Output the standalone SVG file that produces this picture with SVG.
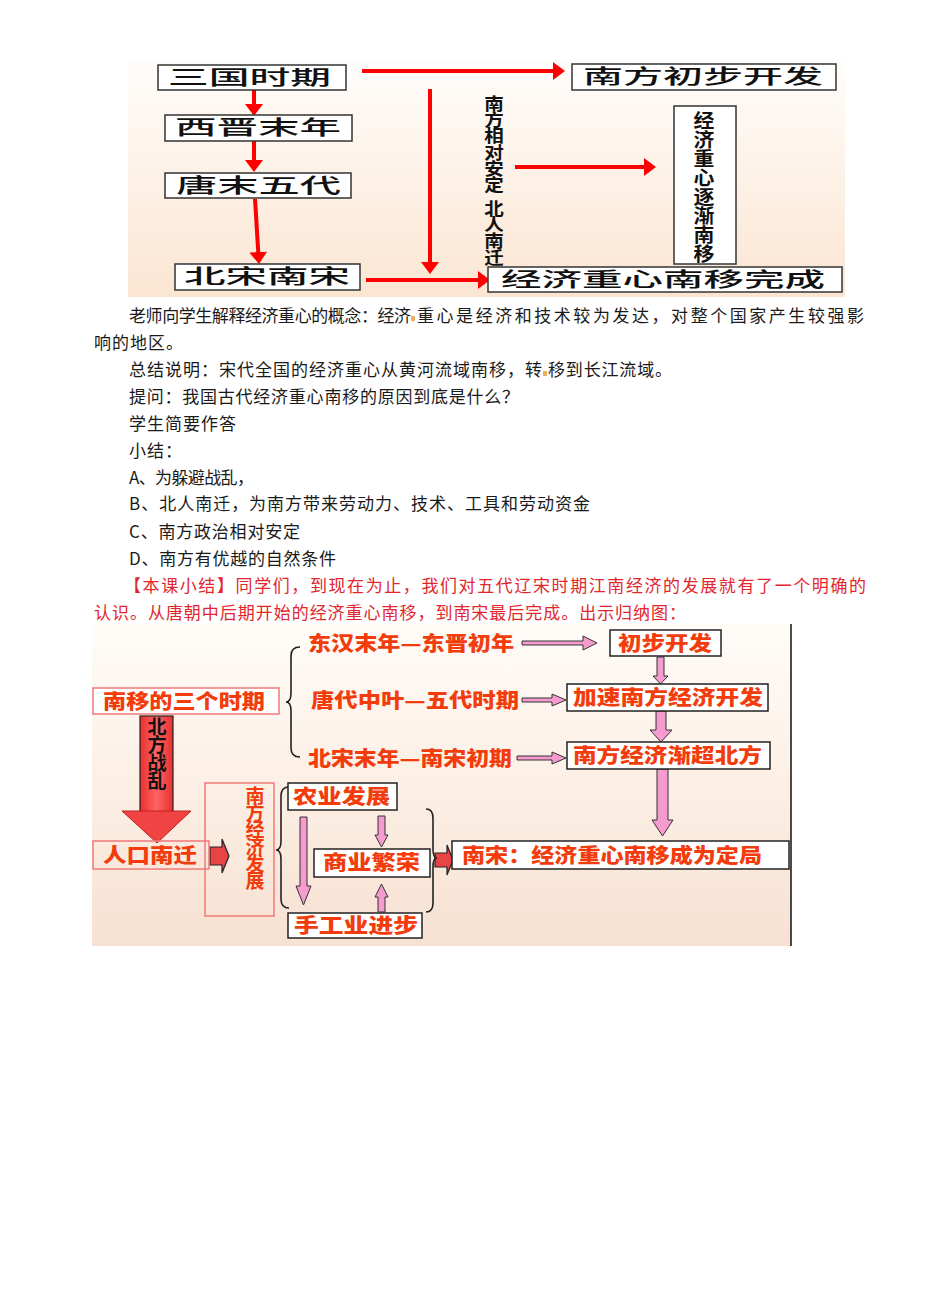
<svg xmlns="http://www.w3.org/2000/svg" width="950" height="1316" viewBox="0 0 950 1316">
<defs>
<linearGradient id="bgTop" x1="0" y1="0" x2="0" y2="1">
<stop offset="0" stop-color="#fffdfb"/><stop offset="1" stop-color="#fbe5d2"/>
</linearGradient>
<linearGradient id="bgBot" x1="0" y1="0" x2="0" y2="1">
<stop offset="0" stop-color="#fffcf8"/><stop offset="0.5" stop-color="#fcefe5"/><stop offset="1" stop-color="#f7e1d2"/>
</linearGradient>
<linearGradient id="redShaft" x1="0" y1="0" x2="1" y2="0">
<stop offset="0" stop-color="#e83030"/><stop offset="0.5" stop-color="#ff6464"/><stop offset="1" stop-color="#e83030"/>
</linearGradient>
<marker id="rh" viewBox="0 0 12 18" refX="4" refY="9" markerWidth="12" markerHeight="18" markerUnits="userSpaceOnUse" orient="auto">
<path d="M0,0 L12,9 L0,18 Z" fill="#ff0000"/>
</marker>
<style>
.para{font-family:"Noto Sans CJK SC","Liberation Serif",serif;font-size:17px;fill:#1a1a1a}
.red{fill:#e3262e}
.tb{fill:#fff;stroke:#333;stroke-width:1.5}
.tt{font-family:"Noto Sans CJK SC",sans-serif;font-size:20px;font-weight:500;fill:#111}
.vt{writing-mode:vertical-rl;font-family:"Noto Sans CJK SC",sans-serif;font-weight:bold}
.rl{stroke:#ff0000;stroke-width:4;fill:none}
.bb{fill:#fff;stroke:#222;stroke-width:1.5}
.pb{fill:#fff;stroke:#f07a7a;stroke-width:1.5}
.pbn{fill:none;stroke:#f07a7a;stroke-width:1.5}
.bt{font-family:"Noto Sans CJK SC",sans-serif;font-size:20px;font-weight:900;fill:#f23c0c}
.pa{fill:#f59bcf;stroke:#333;stroke-width:1}
.ra{fill:#e84444;stroke:#222;stroke-width:1.2}
.br{fill:none;stroke:#222;stroke-width:1.6}
.dot{fill:#e8b060}
</style>
</defs>

<!-- top diagram background -->
<rect x="128" y="60" width="717" height="237" fill="url(#bgTop)"/>

<g id="top-connectors">
<line class="rl" x1="254" y1="90" x2="254" y2="108" marker-end="url(#rh)"/>
<line class="rl" x1="254" y1="141" x2="254" y2="164" marker-end="url(#rh)"/>
<line class="rl" x1="255" y1="199" x2="258.5" y2="256" marker-end="url(#rh)"/>
<line class="rl" x1="362" y1="71" x2="557" y2="71" marker-end="url(#rh)"/>
<line class="rl" x1="430" y1="89" x2="430" y2="266" stroke-width="5" marker-end="url(#rh)"/>
<line class="rl" x1="515" y1="167" x2="648" y2="167" marker-end="url(#rh)"/>
<line class="rl" x1="366" y1="280" x2="482" y2="280" marker-end="url(#rh)"/>
</g>

<g id="n-sanguo"><rect class="tb" x="158" y="65" width="188" height="25"/><text class="tt" x="168" y="85" textLength="163" lengthAdjust="spacingAndGlyphs">三国时期</text></g>
<g id="n-xijin"><rect class="tb" x="165" y="115" width="187" height="26"/><text class="tt" x="175" y="135" textLength="166" lengthAdjust="spacingAndGlyphs">西晋末年</text></g>
<g id="n-tangmo"><rect class="tb" x="165" y="173" width="186" height="25"/><text class="tt" x="176" y="193" textLength="165" lengthAdjust="spacingAndGlyphs">唐末五代</text></g>
<g id="n-beisong"><rect class="tb" x="175" y="264" width="185" height="26"/><text class="tt" x="184" y="284" textLength="166" lengthAdjust="spacingAndGlyphs">北宋南宋</text></g>
<g id="n-chubu"><rect class="tb" x="572" y="64" width="264" height="26"/><text class="tt" x="583" y="84" textLength="240" lengthAdjust="spacingAndGlyphs">南方初步开发</text></g>
<g id="n-wancheng"><rect class="tb" x="488" y="267" width="354" height="25"/><text class="tt" x="501" y="287" font-size="22" textLength="324" lengthAdjust="spacingAndGlyphs">经济重心南移完成</text></g>
<g id="n-zhujian"><rect class="tb" x="674" y="106" width="62" height="158"/>
<text class="vt" x="704" y="111" font-size="19" fill="#111" letter-spacing="0.1" transform="matrix(1.1,0,0,1,-70.4,0)">经济重心逐渐南移</text></g>
<g id="n-reason">
<text class="vt" x="494" y="95" font-size="17" fill="#111" letter-spacing="-0.8" transform="matrix(1.15,0,0,1,-74.1,0)">南方相对安定</text>
<text class="vt" x="494" y="200" font-size="17" fill="#111" letter-spacing="-0.8" transform="matrix(1.15,0,0,1,-74.1,0)">北人南迁</text>
</g>

<!-- paragraphs -->
<g id="paragraphs">
<text class="para" x="129" y="322" textLength="282" lengthAdjust="spacing">老师向学生解释经济重心的概念：经济</text>
<rect class="dot" x="411" y="316" width="4" height="5"/>
<text class="para" x="417" y="322" textLength="447" lengthAdjust="spacing">重心是经济和技术较为发达，对整个国家产生较强影</text>
<text class="para" x="94" y="349" textLength="89" lengthAdjust="spacing">响的地区。</text>
<text class="para" x="129" y="376" textLength="413" lengthAdjust="spacing">总结说明：宋代全国的经济重心从黄河流域南移，转</text>
<rect class="dot" x="543" y="371" width="4" height="5"/>
<text class="para" x="548" y="376" textLength="124" lengthAdjust="spacing">移到长江流域。</text>
<text class="para" x="129" y="403" textLength="390" lengthAdjust="spacing">提问：我国古代经济重心南移的原因到底是什么？</text>
<text class="para" x="129" y="430" textLength="107" lengthAdjust="spacing">学生简要作答</text>
<text class="para" x="129" y="457" textLength="53" lengthAdjust="spacing">小结：</text>
<text class="para" x="129" y="484" textLength="125" lengthAdjust="spacing">A、为躲避战乱，</text>
<text class="para" x="129" y="510" textLength="461" lengthAdjust="spacing">B、北人南迁，为南方带来劳动力、技术、工具和劳动资金</text>
<text class="para" x="129" y="538" textLength="171" lengthAdjust="spacing">C、南方政治相对安定</text>
<text class="para" x="129" y="565" textLength="207" lengthAdjust="spacing">D、南方有优越的自然条件</text>
<text class="para red" x="124" y="592" textLength="742" lengthAdjust="spacing">【本课小结】同学们，到现在为止，我们对五代辽宋时期江南经济的发展就有了一个明确的</text>
<text class="para red" x="94" y="619" textLength="592" lengthAdjust="spacing">认识。从唐朝中后期开始的经济重心南移，到南宋最后完成。出示归纳图：</text>
</g>

<!-- bottom diagram background -->
<rect x="92" y="624" width="699" height="322" fill="url(#bgBot)"/>
<line x1="791" y1="624" x2="791" y2="946" stroke="#111" stroke-width="1.5"/>

<g id="bottom-connectors">
<path class="pa" d="M522,641 L583,641 L583,636 L597,643 L583,650 L583,645 L522,645 Z"/>
<path class="pa" d="M522,698 L552,698 L552,694 L566,700 L552,706 L552,702 L522,702 Z"/>
<path class="pa" d="M517,756 L552,756 L552,752 L566,758 L552,764 L552,760 L517,760 Z"/>
<path class="pa" d="M657,657 L664,657 L664,676 L668,676 L660.5,684 L653,676 L657,676 Z"/>
<path class="pa" d="M656,711 L666,711 L666,730 L672,730 L661,742 L650,730 L656,730 Z"/>
<path class="pa" d="M657,769 L668,769 L668,820 L673,820 L662.5,836 L652,820 L657,820 Z"/>
<path class="pa" d="M300,817 L307,817 L307,886 L311,886 L303.5,905 L296,886 L300,886 Z"/>
<path class="pa" d="M378,816 L385,816 L385,835 L388,835 L381.5,847 L375,835 L378,835 Z"/>
<path class="pa" d="M378,912 L385,912 L385,897 L388,897 L381.5,884 L375,897 L378,897 Z"/>
<path class="ra" d="M210,847 L222,847 L222,839 L229,856 L222,873 L222,865 L210,865 Z"/>
<path class="ra" d="M435,853 L447,853 L447,845 L453,860 L447,875 L447,867 L435,867 Z"/>
<path class="br" d="M300,647 Q291,647 291,656 L291,693 Q291,702 286,702 Q291,702 291,711 L291,748 Q291,757 300,757"/>
<path class="br" d="M289,787 Q281,787 281,796 L281,841 Q281,850 276,850 Q281,850 281,859 L281,899 Q281,908 289,908"/>
<path class="br" stroke="#555" stroke-width="1.2" d="M426,809 Q433,809 433,818 L433,849 Q433,858 437,858 Q433,858 433,867 L433,903 Q433,912 426,912"/>
</g>

<g id="n-dongHan"><text class="bt" x="308" y="651" textLength="206" lengthAdjust="spacingAndGlyphs">东汉末年—东晋初年</text></g>
<g id="n-tangDai"><text class="bt" x="311" y="708" textLength="208" lengthAdjust="spacingAndGlyphs">唐代中叶—五代时期</text></g>
<g id="n-beiSongMo"><text class="bt" x="308" y="766" textLength="204" lengthAdjust="spacingAndGlyphs">北宋末年—南宋初期</text></g>
<g id="n-chubu2"><rect class="bb" x="610" y="630" width="111" height="26"/><text class="bt" x="618" y="651" textLength="94" lengthAdjust="spacingAndGlyphs">初步开发</text></g>
<g id="n-jiasu"><rect class="bb" x="567" y="684" width="201" height="27"/><text class="bt" x="573" y="705" textLength="190" lengthAdjust="spacingAndGlyphs">加速南方经济开发</text></g>
<g id="n-jianchao"><rect class="bb" x="567" y="742" width="203" height="27"/><text class="bt" x="573" y="763" textLength="189" lengthAdjust="spacingAndGlyphs">南方经济渐超北方</text></g>
<g id="n-nansong"><rect class="bb" x="452" y="841" width="337" height="28"/><text class="bt" x="462" y="863" textLength="300" lengthAdjust="spacingAndGlyphs">南宋：经济重心南移成为定局</text></g>
<g id="n-sanshiqi"><rect class="pb" x="93" y="688" width="186" height="26"/><text class="bt" x="103" y="709" textLength="162" lengthAdjust="spacingAndGlyphs">南移的三个时期</text></g>
<g id="n-zhanluan">
<rect x="140" y="716" width="33" height="96" fill="url(#redShaft)" stroke="#222" stroke-width="1.2"/>
<path d="M122,811 L191,811 L157,843 Z" fill="#f04444" stroke="#c02020" stroke-width="1"/>
<text class="vt" x="157" y="717" font-size="19" fill="#111" letter-spacing="-1">北方战乱</text></g>
<g id="n-renkou"><rect class="pbn" x="93" y="841" width="116" height="28"/><text class="bt" x="103" y="863" textLength="94" lengthAdjust="spacingAndGlyphs">人口南迁</text></g>
<g id="n-nanfangjingji"><rect class="pbn" x="205" y="783" width="69" height="133"/>
<text class="vt" x="255" y="786" font-size="19" fill="#f23c0c" font-weight="900" letter-spacing="-2">南方经济发展</text></g>
<g id="n-nongye"><rect class="bb" x="288" y="783" width="109" height="27"/><text class="bt" x="293" y="804" textLength="97" lengthAdjust="spacingAndGlyphs">农业发展</text></g>
<g id="n-shangye"><rect class="bb" x="314" y="849" width="116" height="28"/><text class="bt" x="323" y="870" textLength="97" lengthAdjust="spacingAndGlyphs">商业繁荣</text></g>
<g id="n-shougongye"><rect class="bb" x="288" y="913" width="134" height="25"/><text class="bt" x="294" y="933" textLength="124" lengthAdjust="spacingAndGlyphs">手工业进步</text></g>
</svg>
